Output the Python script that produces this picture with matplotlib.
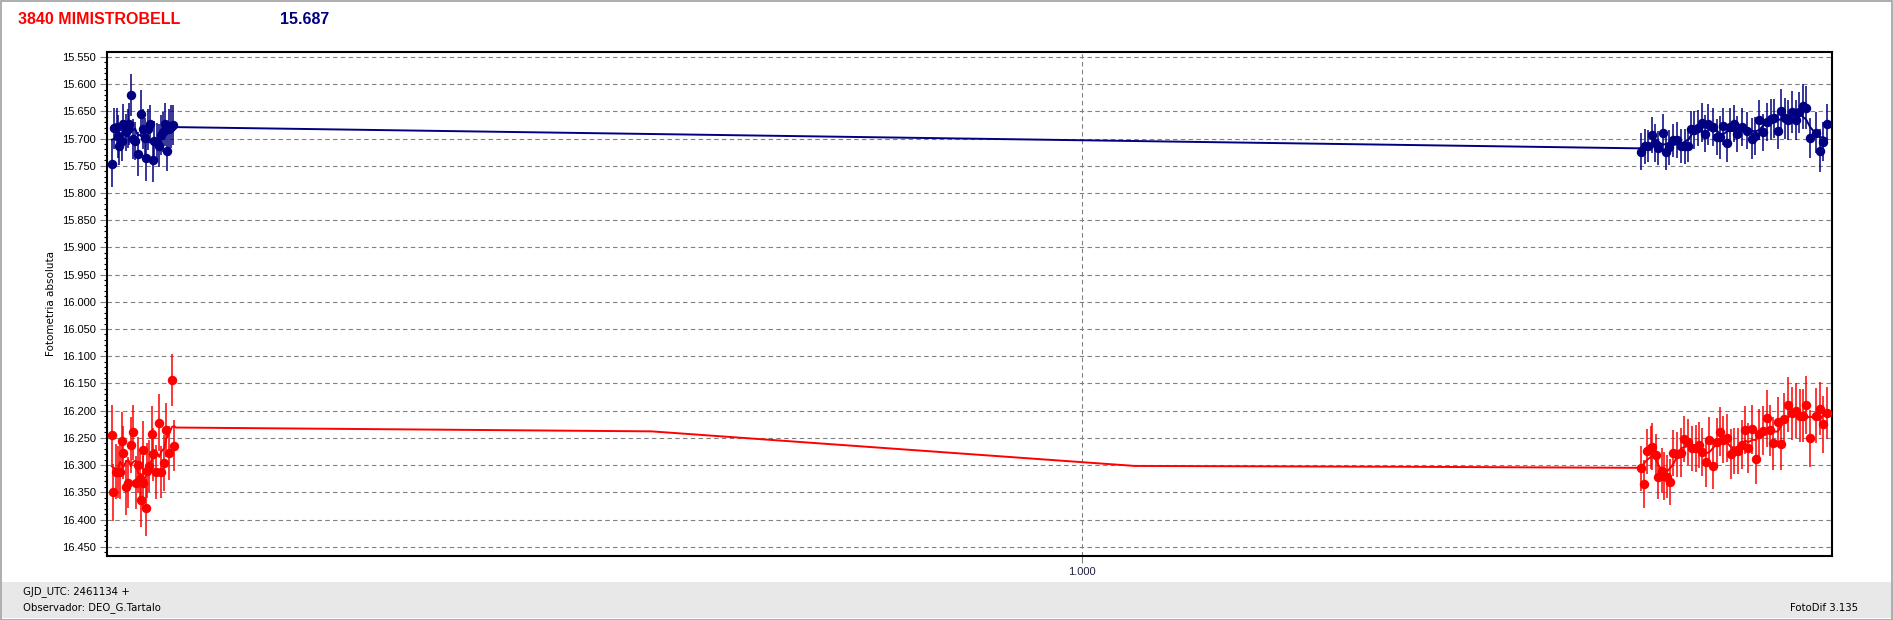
import matplotlib.pyplot as plt
from matplotlib.patches import Rectangle
from matplotlib.ticker import MultipleLocator, FixedLocator, FixedFormatter
import numpy as np

# DATA (GJD_UTC - 2461134, absolute magnitude)
blue_left_t = [0.3533, 0.3547, 0.3565, 0.3575, 0.3582, 0.3598, 0.3609, 0.3627,
               0.3642, 0.3649, 0.3660, 0.3671, 0.3687, 0.3705, 0.3725, 0.3738,
               0.3753, 0.3760, 0.3775, 0.3787, 0.3805, 0.3813, 0.3831, 0.3849,
               0.3860, 0.3871, 0.3887, 0.3902, 0.3911, 0.3925, 0.3942]
blue_left_mag = [15.746, 15.681, 15.679, 15.696, 15.714, 15.704, 15.673, 15.688,
                 15.682, 15.673, 15.620, 15.701, 15.704, 15.728, 15.654, 15.683,
                 15.699, 15.736, 15.683, 15.673, 15.740, 15.704, 15.707, 15.713,
                 15.694, 15.688, 15.674, 15.722, 15.682, 15.678, 15.675]
blue_left_err = [0.043, 0.038, 0.036, 0.040, 0.035, 0.038, 0.037, 0.034,
                 0.036, 0.039, 0.038, 0.036, 0.035, 0.040, 0.043, 0.037,
                 0.036, 0.042, 0.038, 0.035, 0.040, 0.037, 0.036, 0.039,
                 0.037, 0.036, 0.040, 0.038, 0.037, 0.039, 0.036]

blue_right_t = [1.3725, 1.3754, 1.3776, 1.3798, 1.3820, 1.3843, 1.3871, 1.3894,
                1.3916, 1.3943, 1.3969, 1.3994, 1.4020, 1.4043, 1.4058, 1.4080,
                1.4109, 1.4131, 1.4154, 1.4176, 1.4205, 1.4231, 1.4254, 1.4276,
                1.4298, 1.4320, 1.4349, 1.4369, 1.4403, 1.4436, 1.4465, 1.4487,
                1.4516, 1.4538, 1.4565, 1.4591, 1.4614, 1.4640, 1.4660, 1.4687,
                1.4709, 1.4731, 1.4758, 1.4783, 1.4805, 1.4827, 1.4854, 1.4894,
                1.4920, 1.4943, 1.4965]
blue_right_mag = [15.724, 15.714, 15.714, 15.693, 15.708, 15.718, 15.690, 15.724,
                  15.716, 15.703, 15.703, 15.714, 15.714, 15.714, 15.683, 15.684,
                  15.681, 15.671, 15.691, 15.674, 15.679, 15.697, 15.698, 15.677,
                  15.709, 15.679, 15.673, 15.691, 15.679, 15.686, 15.700, 15.696,
                  15.666, 15.688, 15.670, 15.665, 15.663, 15.686, 15.649, 15.663,
                  15.666, 15.651, 15.666, 15.652, 15.641, 15.643, 15.699, 15.689,
                  15.722, 15.706, 15.673]
blue_right_err = [0.034, 0.032, 0.030, 0.033, 0.035, 0.031, 0.036, 0.034,
                  0.032, 0.030, 0.033, 0.031, 0.032, 0.030, 0.034, 0.035,
                  0.033, 0.036, 0.034, 0.037, 0.035, 0.033, 0.040, 0.034,
                  0.035, 0.036, 0.034, 0.033, 0.035, 0.034, 0.037, 0.035,
                  0.036, 0.034, 0.035, 0.037, 0.036, 0.034, 0.040, 0.037,
                  0.036, 0.039, 0.037, 0.038, 0.041, 0.039, 0.036, 0.037,
                  0.040, 0.036, 0.037]

red_left_t = [0.3533, 0.3542, 0.3560, 0.3573, 0.3587, 0.3600, 0.3609, 0.3627,
              0.3642, 0.3658, 0.3676, 0.3691, 0.3705, 0.3720, 0.3727, 0.3738,
              0.3742, 0.3760, 0.3769, 0.3782, 0.3798, 0.3809, 0.3827, 0.3849,
              0.3860, 0.3882, 0.3893, 0.3911, 0.3933, 0.3947]
red_left_mag = [16.245, 16.350, 16.312, 16.313, 16.312, 16.255, 16.277, 16.341,
                16.332, 16.263, 16.240, 16.332, 16.300, 16.326, 16.364, 16.273,
                16.332, 16.378, 16.310, 16.301, 16.243, 16.280, 16.313, 16.222,
                16.313, 16.296, 16.235, 16.278, 16.143, 16.264]
red_left_err = [0.055, 0.052, 0.050, 0.048, 0.051, 0.053, 0.049, 0.050,
                0.047, 0.052, 0.050, 0.049, 0.051, 0.048, 0.050, 0.054,
                0.049, 0.052, 0.050, 0.048, 0.051, 0.049, 0.050, 0.053,
                0.048, 0.051, 0.050, 0.049, 0.048, 0.047]

red_right_t = [1.3725, 1.3749, 1.3769, 1.3791, 1.3803, 1.3825, 1.3843, 1.3869,
               1.3880, 1.3898, 1.3920, 1.3943, 1.3969, 1.3994, 1.4014, 1.4038,
               1.4065, 1.4094, 1.4116, 1.4134, 1.4158, 1.4180, 1.4205, 1.4231,
               1.4254, 1.4276, 1.4303, 1.4325, 1.4349, 1.4376, 1.4398, 1.4420,
               1.4443, 1.4469, 1.4494, 1.4516, 1.4543, 1.4565, 1.4587, 1.4609,
               1.4638, 1.4660, 1.4683, 1.4705, 1.4731, 1.4758, 1.4787, 1.4805,
               1.4825, 1.4854, 1.4894, 1.4920, 1.4938, 1.4965]
red_right_mag = [16.306, 16.335, 16.275, 16.268, 16.266, 16.282, 16.321, 16.310,
                 16.320, 16.321, 16.331, 16.278, 16.280, 16.277, 16.252, 16.258,
                 16.269, 16.269, 16.263, 16.276, 16.295, 16.254, 16.302, 16.257,
                 16.239, 16.253, 16.251, 16.280, 16.274, 16.274, 16.263, 16.236,
                 16.268, 16.234, 16.288, 16.242, 16.237, 16.214, 16.236, 16.260,
                 16.220, 16.261, 16.215, 16.189, 16.205, 16.200, 16.209, 16.209,
                 16.189, 16.251, 16.209, 16.196, 16.225, 16.204]
red_right_err = [0.042, 0.044, 0.041, 0.040, 0.043, 0.040, 0.042, 0.041,
                 0.044, 0.040, 0.043, 0.042, 0.041, 0.045, 0.043, 0.042,
                 0.041, 0.043, 0.042, 0.044, 0.045, 0.043, 0.042, 0.044,
                 0.045, 0.043, 0.044, 0.046, 0.043, 0.042, 0.045, 0.044,
                 0.046, 0.045, 0.047, 0.046, 0.045, 0.052, 0.047, 0.049,
                 0.046, 0.048, 0.047, 0.051, 0.048, 0.050, 0.049, 0.048,
                 0.053, 0.052, 0.050, 0.049, 0.052, 0.048]

# trend line nodes across the night gap
blue_gap_t = [0.396, 1.371]
blue_gap_mag = [15.679, 15.718]
red_gap_t = [0.396, 0.713, 1.035, 1.210, 1.371]
red_gap_mag = [16.231, 16.238, 16.3015, 16.303, 16.305]

star_name = "3840 MIMISTROBELL"
mean_mag = "15.687"
y_ticks = [15.55 + 0.05 * i for i in range(19)]

BLUE = "#000080"
RED = "#ff0000"


def smooth(values, n=5):
    v = np.asarray(values)
    out = []
    for i in range(len(v)):
        lo = max(0, i - n // 2)
        hi = min(len(v), i + n // 2 + 1)
        out.append(v[lo:hi].mean())
    return out


fig = plt.figure(figsize=(18.93, 6.2), dpi=100)
fig.patch.set_facecolor("white")

ax = fig.add_axes([107 / 1893, 1 - 556 / 620, 1725 / 1893, 504 / 620])

# SERIES
for lt, lm, le, rt, rm, re, gt, gm, col in [
    (blue_left_t, blue_left_mag, blue_left_err, blue_right_t, blue_right_mag,
     blue_right_err, blue_gap_t, blue_gap_mag, BLUE),
    (red_left_t, red_left_mag, red_left_err, red_right_t, red_right_mag,
     red_right_err, red_gap_t, red_gap_mag, RED),
]:
    trend_t = list(lt) + list(gt) + list(rt)
    trend_m = smooth(lm) + list(gm) + smooth(rm)
    ax.plot(trend_t, trend_m, color=col, linewidth=1.4, zorder=3)
    ax.errorbar(lt + rt, lm + rm, yerr=le + re, fmt="o", color=col,
                markersize=5.8, elinewidth=1.1, capsize=0, zorder=4)

# LIMITS
ax.set_xlim(0.35, 1.50)
ax.set_ylim(16.467, 15.541)

# TICKS
ax.yaxis.set_major_locator(FixedLocator(y_ticks))
ax.yaxis.set_major_formatter(FixedFormatter(["%.3f" % v for v in y_ticks]))
ax.yaxis.set_minor_locator(MultipleLocator(0.01))
ax.xaxis.set_major_locator(FixedLocator([1.0]))
ax.xaxis.set_major_formatter(FixedFormatter(["1.000"]))
ax.tick_params(axis="both", which="major", labelsize=7.5, length=5,
               width=0.8, color="#808080", pad=3)
ax.tick_params(axis="y", which="minor", length=2.5, width=0.8, color="black")
ax.tick_params(axis="x", labelcolor="#202040")
for lab in ax.get_yticklabels() + ax.get_xticklabels():
    lab.set_family("Liberation Sans")
    lab.set_fontsize(8)

# GRID
ax.grid(True, which="major", color="#808080", linestyle=(0, (4, 3)),
        linewidth=0.8)
ax.set_axisbelow(True)

for s in ax.spines.values():
    s.set_linewidth(1.5)
    s.set_color("black")

# LABELS
ax.set_ylabel("Fotometria absoluta", fontsize=7.5, labelpad=4)

fig.text(18 / 1893, 1 - 19.5 / 620, star_name, color=RED, fontsize=11.5,
         fontweight="bold", family="Liberation Sans", va="center", ha="left")
fig.text(280 / 1893, 1 - 19.5 / 620, mean_mag, color=BLUE, fontsize=11.5,
         fontweight="bold", family="Liberation Sans", va="center", ha="left")

# FOOTER
fig.patches.append(Rectangle((2 / 1893, 2 / 620), 1889 / 1893, 36 / 620,
                             transform=fig.transFigure, facecolor="#e8e8e8",
                             edgecolor="none", zorder=0))
fig.patches.append(Rectangle((0.5 / 1893, 0.5 / 620), 1891.5 / 1893,
                             618.5 / 620, transform=fig.transFigure,
                             facecolor="none", edgecolor="#a0a0a0",
                             linewidth=1.2, zorder=5))
fig.text(23 / 1893, 1 - 592 / 620, "GJD_UTC: 2461134 +", fontsize=7.3,
         va="center", ha="left")
fig.text(23 / 1893, 1 - 608 / 620, "Observador: DEO_G.Tartalo", fontsize=7.3,
         va="center", ha="left")
fig.text(1858 / 1893, 1 - 608 / 620, "FotoDif 3.135", fontsize=7.3,
         va="center", ha="right")

fig.savefig("out.png", dpi=100, facecolor=fig.get_facecolor())
plt.close(fig)
